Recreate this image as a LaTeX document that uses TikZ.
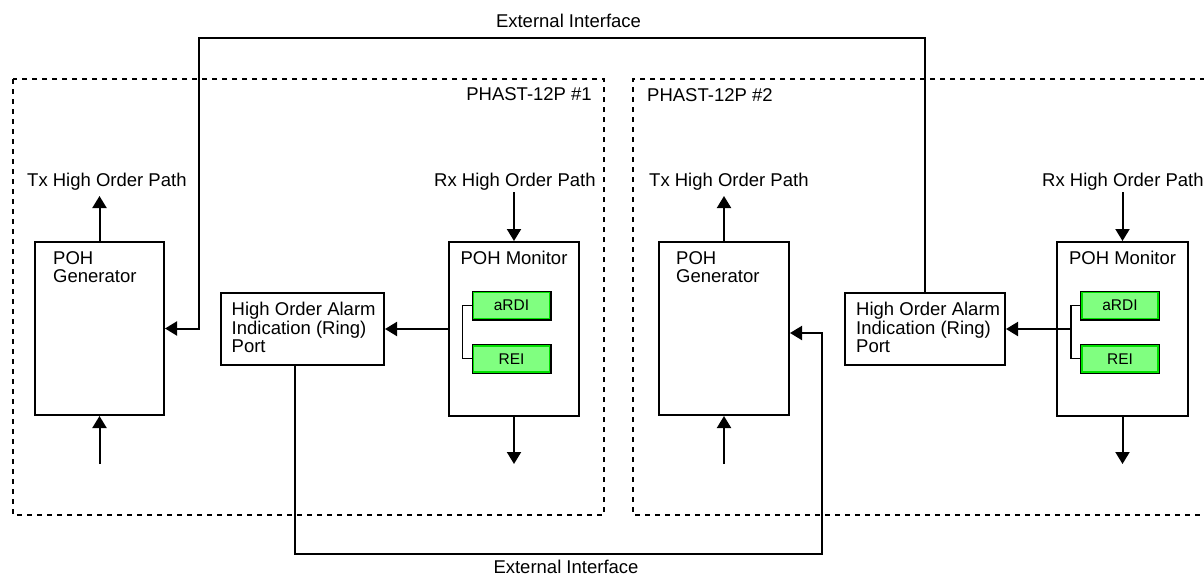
\documentclass[tikz,border=0pt]{standalone}
\usepackage{fontspec}
\setmainfont{Liberation Sans}
\usepackage{tikz}
\usetikzlibrary{arrows.meta,positioning,calc}
\definecolor{flagfill}{RGB}{128,255,128}
\definecolor{flagrim}{RGB}{0,225,0}

\begin{document}
\begin{tikzpicture}[
  x=1pt, y=-1pt,
  font=\fontsize{18.5}{18.6}\selectfont,
  block/.style={
    draw,
    line width=2pt,
    inner sep=0pt
  },
  txt/.style={inner sep=0pt, align=left},
  flag/.style={
    draw=flagrim,
    line width=1.8pt,
    fill=flagfill,
    preaction={draw=black, line width=4pt},
    minimum width=76pt,
    minimum height=26pt,
    inner sep=0pt,
    font=\fontsize{15.5}{16}\selectfont
  },
  tick/.style={line width=1.3pt},
  arrow/.style={-{Triangle[length=12pt,width=14pt]},line width=2pt},
  frame/.style={dash pattern=on 5pt off 5pt,line width=2pt}
]
\useasboundingbox (0,0) rectangle (1204,578);
\clip (0,0) rectangle (1204,578);

% the two PHAST-12P devices
\draw[frame] (13,79) rectangle (604,515);
\draw[frame] (1215,79) -- (633,79) -- (633,515) -- (1215,515);
\node[txt,anchor=base east] (phast1) at (592,100) {PHAST-12P \#1};
\node[txt,anchor=base west] (phast2) at (647,101) {PHAST-12P \#2};

% device 1
\node[block,minimum width=129pt,minimum height=173pt] (gen1) at (99.5,328.5) {};
\node[block,minimum width=130pt,minimum height=174pt] (mon1) at (514,329) {};
\node[block,minimum width=163pt,minimum height=72pt] (port1) at (302.5,329) {};
\node[txt,anchor=north west] (gen1txt) at ([shift={(19,10)}]gen1.north west) {POH\\Generator};
\node[txt,anchor=north] (mon1txt) at ([yshift=-10pt]mon1.north) {POH Monitor};
\node[txt,anchor=north west] (port1txt) at ([shift={(11.5,10)}]port1.north west) {High Order Alarm\\Indication (Ring)\\Port};
\node[flag] (ardi1) at (511.5,305.5) {aRDI};
\node[flag,below=25.5pt of ardi1] (rei1) {REI};
\node[txt,anchor=base west] (txlbl1) at (27,186) {Tx High Order Path};
\node[txt,anchor=base west] (rxlbl1) at (434,186) {Rx High Order Path};

% device 2
\node[block,minimum width=130pt,minimum height=173pt] (gen2) at (724,328.5) {};
\node[block,minimum width=131pt,minimum height=174pt] (mon2) at (1122.5,329) {};
\node[block,minimum width=160pt,minimum height=72pt] (port2) at (925,329) {};
\node[txt,anchor=north west] (gen2txt) at ([shift={(18,10)}]gen2.north west) {POH\\Generator};
\node[txt,anchor=north] (mon2txt) at ([yshift=-10pt]mon2.north) {POH Monitor};
\node[txt,anchor=north west] (port2txt) at ([shift={(12,10)}]port2.north west) {High Order Alarm\\Indication (Ring)\\Port};
\node[flag] (ardi2) at (1120,305.5) {aRDI};
\node[flag,below=25.5pt of ardi2] (rei2) {REI};
\node[txt,anchor=base west] (txlbl2) at (649,186) {Tx High Order Path};
\node[txt,anchor=base west] (rxlbl2) at (1042,186) {Rx High Order Path};

% path ends
\coordinate (txout1) at ([yshift=45pt]gen1.north);
\coordinate (rxin1) at ([yshift=49pt]mon1.north);
\coordinate (genin1) at ([yshift=-48pt]gen1.south);
\coordinate (monout1) at ([yshift=-47pt]mon1.south);
\coordinate (txout2) at ([yshift=45pt]gen2.north);
\coordinate (rxin2) at ([yshift=49pt]mon2.north);
\coordinate (genin2) at ([yshift=-48pt]gen2.south);
\coordinate (monout2) at ([yshift=-47pt]mon2.south);

\draw[arrow] (gen1.north) -- (txout1);
\draw[arrow] (rxin1) -- (mon1.north);
\draw[arrow] (genin1) -- (gen1.south);
\draw[arrow] (mon1.south) -- (monout1);
\draw[arrow] (gen2.north) -- (txout2);
\draw[arrow] (rxin2) -- (mon2.north);
\draw[arrow] (genin2) -- (gen2.south);
\draw[arrow] (mon2.south) -- (monout2);

% alarm flags to the ring port
\draw[tick] (ardi1.west) -- ++(-10,0) |- (rei1.west);
\draw[arrow] (mon1.west) -- (port1.east);
\draw[tick] (ardi2.west) -- ++(-10,0) coordinate (brk2) |- (rei2.west);
\draw[arrow] (brk2 |- port2.east) -- (port2.east);

% external interfaces
\coordinate (extT) at (199,38);
\coordinate (extB) at (822,554);
\draw[arrow] (port2.north) |- (extT) |- (gen1.east);
\draw[arrow] ([xshift=-7.5pt]port1.south) |- (extB) |- ([yshift=-4.5pt]gen2.east);
\node[txt] (extlbl1) at (568.5,21) {External Interface};
\node[txt,anchor=base] (extlbl2) at (566,573) {External Interface};
\end{tikzpicture}
\end{document}
